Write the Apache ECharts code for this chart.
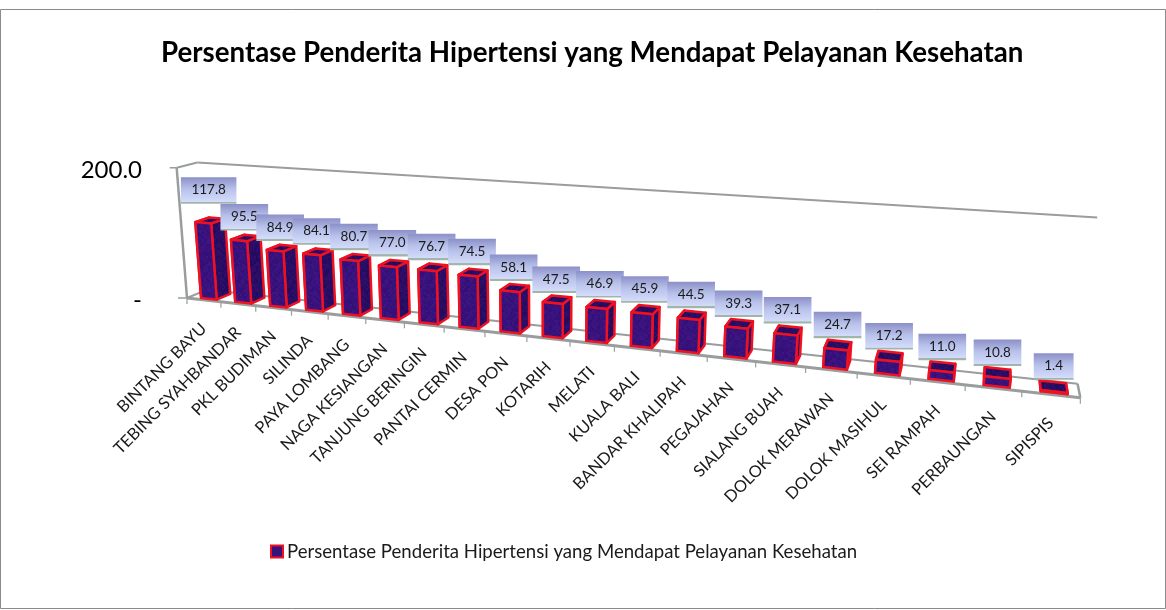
<!DOCTYPE html>
<html><head><meta charset="utf-8">
<style>html,body{margin:0;padding:0;background:#fff}#c{width:1166px;height:610px}</style>
<script src="https://cdn.jsdelivr.net/npm/echarts@6/dist/echarts.min.js"></script>
</head><body><div id="c"></div>
<script>
var categories = ["BINTANG BAYU","TEBING SYAHBANDAR","PKL BUDIMAN","SILINDA","PAYA LOMBANG","NAGA KESIANGAN","TANJUNG BERINGIN","PANTAI CERMIN","DESA PON","KOTARIH","MELATI","KUALA BALI","BANDAR KHALIPAH","PEGAJAHAN","SIALANG BUAH","DOLOK MERAWAN","DOLOK MASIHUL","SEI RAMPAH","PERBAUNGAN","SIPISPIS"];
var values = [117.8,95.5,84.9,84.1,80.7,77.0,76.7,74.5,58.1,47.5,46.9,45.9,44.5,39.3,37.1,24.7,17.2,11.0,10.8,1.4];
var seriesName = "Persentase Penderita Hipertensi yang Mendapat Pelayanan Kesehatan";
var yTicks = [0,200];

var GRID = {left:150, top:170, width:930, height:130};
var FONT = "Lato";
// corners of the drawn chart box: [u, v, depth, x, y]
var anchors = [[0,0,0,187,298],[1,0,0,1080,399],[0,1,0,172,168],[0,0,1,202,292],[1,0,1,1078,381],[0,1,1,202,162],[1,1,1,1097,218],[.05,0,0,220,301.7],[.95,0,0,1022,392.4]];

function solve(M,b){var n=b.length;for(var i=0;i<n;i++){var p=i;for(var r=i+1;r<n;r++)if(Math.abs(M[r][i])>Math.abs(M[p][i]))p=r;
  var t=M[i];M[i]=M[p];M[p]=t;t=b[i];b[i]=b[p];b[p]=t;
  for(r=i+1;r<n;r++){var f=M[r][i]/M[i][i];for(var c=i;c<n;c++)M[r][c]-=f*M[i][c];b[r]-=f*b[i];}}
  var x=[];for(i=n-1;i>=0;i--){var s=b[i];for(c=i+1;c<n;c++)s-=M[i][c]*x[c];x[i]=s/M[i][i];}return x;}
var K=(function(){var rows=[],rhs=[],x0=anchors[0][3],y0=anchors[0][4];
  anchors.slice(1).forEach(function(a){var u=a[0],v=a[1],d=a[2],x=a[3],y=a[4];
    rows.push([u,v,d,0,0,0,-x*u,-x*v,-x*d]);rhs.push(x-x0);
    rows.push([0,0,0,u,v,d,-y*u,-y*v,-y*d]);rhs.push(y-y0);});
  var n=9,M=[],b=[];for(var i=0;i<n;i++){M.push([]);b.push(0);for(var j=0;j<n;j++){var s=0;rows.forEach(function(r){s+=r[i]*r[j]});M[i].push(s);}
    rows.forEach(function(r,k){b[i]+=r[i]*rhs[k]});}
  return solve(M,b);})();
function proj(u,v,d){var x0=anchors[0][3],y0=anchors[0][4],w=1+K[6]*u+K[7]*v+K[8]*d;
  return [(x0+K[0]*u+K[1]*v+K[2]*d)/w,(y0+K[3]*u+K[4]*v+K[5]*d)/w];}
function fromPixel(p){return [(p[0]-GRID.left)/GRID.width,(GRID.top+GRID.height-p[1])/GRID.height];}

var GREY="#9a9d9d", RED="#ee1122", FRONT="#38127c", SIDE="#2b0f6c";
function mottled(rgb){var c=document.createElement('canvas');c.width=c.height=48;var g=c.getContext('2d');
  for(var y=0;y<48;y+=2)for(var x=0;x<48;x+=2){var n=Math.sin(x*12.9898+y*78.233)*43758.5453;n=(n-Math.floor(n)-.5)*14;
    g.fillStyle='rgb('+Math.round(rgb[0]+n)+','+Math.round(rgb[1]+n*.5)+','+Math.round(rgb[2]+n)+')';g.fillRect(x,y,2,2);}
  return {image:c,repeat:'repeat'};}
var frontFill=mottled([56,18,124]), sideFill=mottled([40,13,100]);

function ln(a,b,w,c){return {type:'line',silent:true,shape:{x1:a[0],y1:a[1],x2:b[0],y2:b[1]},style:{stroke:c||GREY,lineWidth:w}};}
var frame=[
 {type:'rect',silent:true,shape:{x:0.5,y:9.5,width:1165,height:599},style:{fill:'none',stroke:'#8a8a8a',lineWidth:1}},
 ln(proj(0,1,0),proj(0,1,1),2),ln(proj(0,1,1),proj(1,1,1),2),ln(proj(0,1,0),proj(0,0,0),2.5),
 ln(proj(0,0,0),proj(0,0,1),2),ln(proj(0,0,1),proj(1,0,1),2),ln(proj(0,0,0),proj(1,0,0),3),ln(proj(1,0,0),proj(1,0,1),2.5),
 ln([proj(0,1,0)[0]-7,proj(0,1,0)[1]],proj(0,1,0),1.5),ln([proj(0,0,0)[0]-9,proj(0,0,0)[1]],proj(0,0,0),1.5)
];
categories.forEach(function(c,i){var p=proj((i+1)/categories.length,0,0);frame.push(ln(p,[p[0],p[1]+6],1.2));});
frame.push(ln(proj(0,0,0),[proj(0,0,0)[0],proj(0,0,0)[1]+6],1.2));

function poly(pts,fill){return {type:'polygon',shape:{points:pts},style:{fill:fill,stroke:RED,lineWidth:2.5,lineJoin:'round'}};}
function renderBar(params,api){
  var i=api.value(0),val=api.value(1),b=fromPixel(api.coord([i,0])),t=fromPixel(api.coord([i,val]));
  var hw=api.size([1,0])[0]/GRID.width*0.23,c=b[0]+0.003,u0=c-hw,u1=c+hw,d0=0.15,d1=0.85,v0=b[1],v1=t[1];
  var P=proj;
  return {type:'group',children:[
    poly([P(u0,v0,d0),P(u0,v0,d1),P(u0,v1,d1),P(u0,v1,d0)],sideFill),
    poly([P(u1,v0,d0),P(u1,v0,d1),P(u1,v1,d1),P(u1,v1,d0)],sideFill),
    poly([P(u0,v1,d0),P(u1,v1,d0),P(u1,v1,d1),P(u0,v1,d1)],sideFill),
    poly([P(u0,v0,d0),P(u1,v0,d0),P(u1,v1,d0),P(u0,v1,d0)],frontFill)
  ]};
}
var ctx=document.createElement('canvas').getContext('2d');ctx.font="13.5px "+FONT;
function renderLabel(params,api){
  var i=api.value(0),val=api.value(1),b=fromPixel(api.coord([i,0])),t=fromPixel(api.coord([i,val]));
  var c=b[0]+0.003,topY=proj(c,t[1],0.85)[1],topX=proj(c,t[1],0.42)[0],txt=val.toFixed(1),w=ctx.measureText(txt).width+21,h=26.5;
  var lift=2+val*0.03+Math.max(0,val-100)*0.5;
  var x=topX-w/2,y=topY-lift-h;
  var base=proj(b[0],0,0);
  return {type:'group',children:[
    {type:'rect',shape:{x:x,y:y,width:w,height:h},style:{fill:new echarts.graphic.LinearGradient(0,0,0,1,[{offset:0,color:'#8b90c8'},{offset:.45,color:'#b8c1ea'},{offset:.92,color:'#d3dcfa'},{offset:.93,color:'#a2b5aa'},{offset:1,color:'#a2b5aa'}])}},
    {type:'text',x:x+w/2,y:y+h/2-0.5,style:{text:txt,align:'center',verticalAlign:'middle',font:"13.5px "+FONT,fill:'#1a1a1a'}},
    {type:'text',x:base[0],y:base[1]+26,rotation:Math.PI/4,style:{text:categories[i],align:'right',verticalAlign:'middle',font:"16.4px "+FONT,fill:'#1a1a1a'}}
  ]};
}
var idx=values.map(function(v,i){return [i,v];});
var chart=echarts.init(document.getElementById('c'),null,{renderer:'canvas'});
chart.setOption({
  animation:false,backgroundColor:'#fff',
  title:{text:seriesName,left:156,top:34,textStyle:{fontFamily:FONT,fontWeight:'bold',fontSize:27.7,color:'#000'}},
  legend:{data:[seriesName],left:270,top:542,icon:'rect',itemWidth:12,itemHeight:12,itemGap:0,textStyle:{fontFamily:FONT,fontSize:18.6,color:'#1a1a1a',padding:[0,0,0,-1]},padding:0},
  grid:{left:GRID.left,top:GRID.top,width:GRID.width,height:GRID.height},
  xAxis:{type:'category',data:categories,show:false},
  yAxis:{type:'value',min:yTicks[0],max:yTicks[1],interval:200,axisLine:{show:false},axisTick:{show:false},splitLine:{show:false},
    axisLabel:{margin:8,fontFamily:FONT,fontSize:24,color:'#000',formatter:function(v){return v===0?'-':v.toFixed(1);}}},
  graphic:{elements:frame},
  series:[
    {name:seriesName,type:'custom',coordinateSystem:'cartesian2d',data:idx,encode:{x:0,y:1},renderItem:renderBar,itemStyle:{color:FRONT,borderColor:RED,borderWidth:2},z:2,silent:true,clip:false},
    {name:'labels',type:'custom',coordinateSystem:'cartesian2d',data:idx,encode:{x:0,y:1},renderItem:renderLabel,z:3,silent:true,clip:false}
  ]
});
</script></body></html>
